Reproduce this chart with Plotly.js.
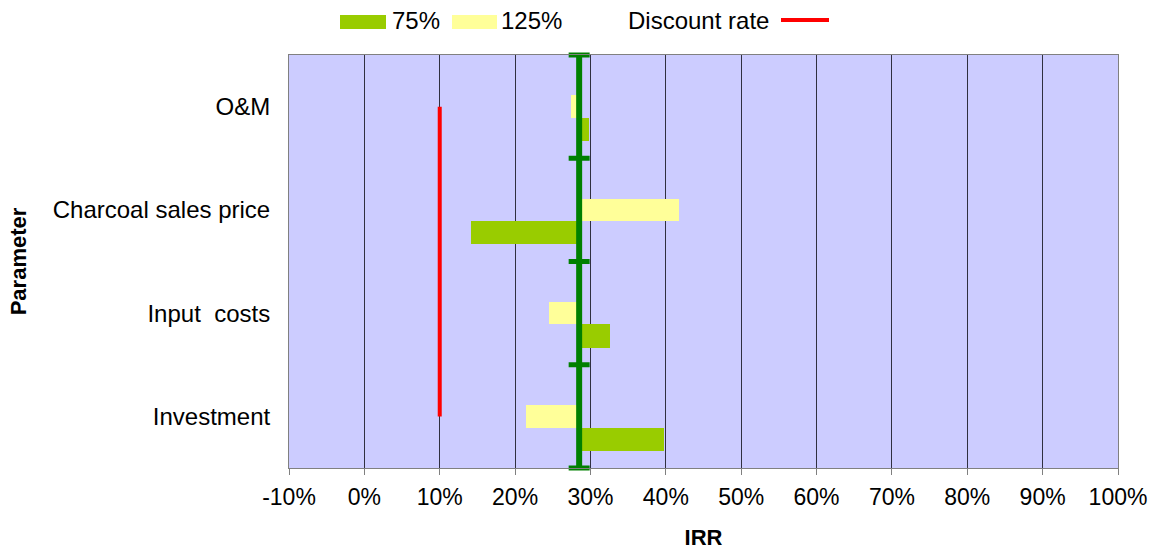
<!DOCTYPE html>
<html>
<head>
<meta charset="utf-8">
<script src="https://cdn.plot.ly/plotly-3.0.1.min.js"></script>
<style>
  html, body { margin: 0; padding: 0; background: #ffffff; }
  #chart { width: 1153px; height: 550px; }
</style>
</head>
<body>
<div id="chart"></div>
<script>
// Sensitivity of the project IRR (%) to each parameter at 75% and 125% of its base value
const parameters = ['O&M', 'Charcoal sales price', 'Input  costs', 'Investment'];
const irrAt75 = [29.8, 14.1, 32.6, 39.7];
const irrAt125 = [27.4, 41.7, 24.5, 21.4];
const baseIRR = 28.5;
const discountRate = 10;
const xTickVals = [-10, 0, 10, 20, 30, 40, 50, 60, 70, 80, 90, 100];

// numeric category positions, first parameter on top
const yPos = parameters.map((_, i) => parameters.length - 1 - i);
const boundaries = [-0.5].concat(yPos.slice().reverse().map(v => v + 0.5));

const FONT = 'Liberation Sans, Arial, sans-serif';

const traces = [
  {
    type: 'bar', orientation: 'h', name: '125%',
    y: yPos, base: baseIRR, x: irrAt125.map(v => v - baseIRR),
    offset: -0.108, width: 0.216,
    marker: { color: '#FFFF99', line: { width: 0 } },
    showlegend: false
  },
  {
    type: 'bar', orientation: 'h', name: '75%',
    y: yPos, base: baseIRR, x: irrAt75.map(v => v - baseIRR),
    offset: -0.335, width: 0.227,
    marker: { color: '#99CC00', line: { width: 0 } },
    showlegend: false
  },
  {
    // base-case IRR line with ticks at the parameter boundaries
    type: 'scatter', mode: 'lines+markers', name: 'Base IRR',
    x: boundaries.map(() => baseIRR), y: boundaries,
    line: { color: '#008000', width: 6 },
    marker: { symbol: 'line-ew', size: 15, color: '#008000', line: { color: '#008000', width: 5 } },
    cliponaxis: false, showlegend: false
  },
  {
    type: 'scatter', mode: 'lines', name: 'Discount rate',
    x: [discountRate, discountRate], y: [yPos[yPos.length - 1], yPos[0]],
    line: { color: '#FF0000', width: 4 },
    showlegend: false
  }
];

// plot-area geometry used to place the hand-drawn legend
const W = 1153, H = 550;
const mL = 289, mR = 35, mT = 55, mB = 82;
const pw = W - mL - mR, ph = H - mT - mB;
const px = x => (x - mL) / pw;
const py = y => (H - mB - y) / ph;

const legendShapes = [
  { type: 'rect', xref: 'paper', yref: 'paper', x0: px(340), x1: px(386), y0: py(29), y1: py(15),
    fillcolor: '#99CC00', line: { width: 0 } },
  { type: 'rect', xref: 'paper', yref: 'paper', x0: px(452), x1: px(497), y0: py(29), y1: py(15),
    fillcolor: '#FFFF99', line: { width: 0 } },
  { type: 'line', xref: 'paper', yref: 'paper', x0: px(781), x1: px(829), y0: py(20), y1: py(20),
    line: { color: '#FF0000', width: 4 } }
];

const legendText = [
  { text: '75%', x: px(390), y: py(20) },
  { text: '125%', x: px(499), y: py(20) },
  { text: 'Discount rate', x: px(626), y: py(20) }
].map(a => ({
  xref: 'paper', yref: 'paper', x: a.x, y: a.y, text: a.text, showarrow: false,
  xanchor: 'left', yanchor: 'middle', font: { family: FONT, size: 24, color: '#000000' }
}));

const layout = {
  width: W, height: H,
  margin: { l: mL, r: mR, t: mT, b: mB },
  paper_bgcolor: '#ffffff',
  plot_bgcolor: '#CCCCFF',
  font: { family: FONT, size: 23, color: '#000000' },
  showlegend: false,
  bargap: 0,
  xaxis: {
    range: [-10, 100],
    tickvals: xTickVals,
    ticktext: xTickVals.map(v => v + '%'),
    showgrid: true, gridcolor: '#303040', gridwidth: 1,
    zeroline: false,
    showline: true, linecolor: '#808080', linewidth: 1, mirror: true,
    ticks: 'outside', ticklen: 6, tickcolor: '#808080',
    ticklabelstandoff: 2,
    tickfont: { family: FONT, size: 23, color: '#000000' },
    title: { text: '<b>IRR</b>', font: { family: FONT, size: 22, color: '#000000' }, standoff: 24 },
    fixedrange: true
  },
  yaxis: {
    range: [-0.5, 3.5],
    tickvals: yPos,
    ticktext: parameters,
    showgrid: false, zeroline: false,
    showline: true, linecolor: '#808080', linewidth: 1, mirror: true,
    ticks: '', ticklabelstandoff: 13,
    tickfont: { family: FONT, size: 24, color: '#000000' },
    title: { text: '<b>Parameter</b>', font: { family: FONT, size: 22, color: '#000000' }, standoff: 20 },
    fixedrange: true
  },
  shapes: legendShapes,
  annotations: legendText
};

Plotly.newPlot('chart', traces, layout, { displayModeBar: false, staticPlot: true });
</script>
</body>
</html>
